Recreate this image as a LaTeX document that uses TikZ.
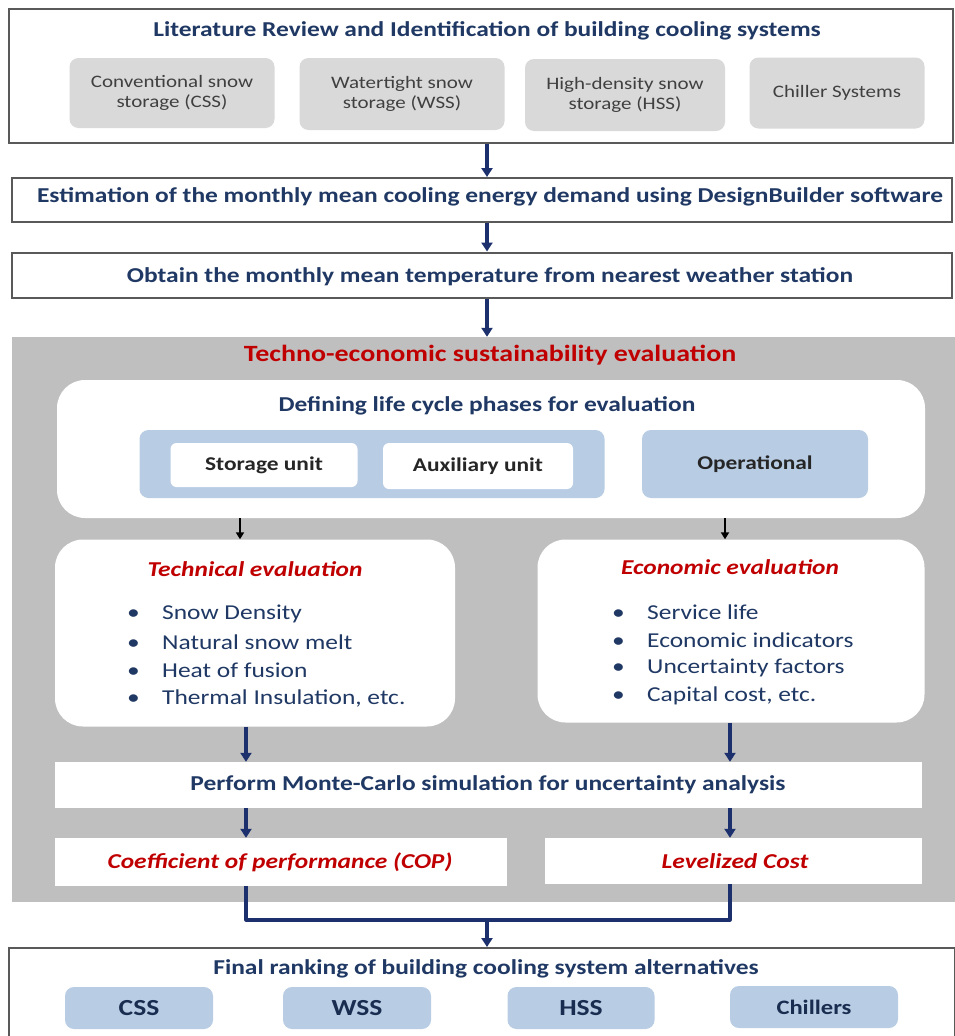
\documentclass[tikz,border=0pt]{standalone}
\usepackage{fontspec}
\setmainfont{Carlito}[FakeStretch=1.2]
\usetikzlibrary{arrows.meta,calc}
\definecolor{navy}{RGB}{31,56,100}
\definecolor{anavy}{RGB}{28,48,110}
\definecolor{dred}{RGB}{192,0,0}
\definecolor{lblue}{RGB}{184,204,228}
\definecolor{bggray}{RGB}{191,191,191}
\definecolor{lgray}{RGB}{217,217,217}
\tikzset{
  outerbox/.style={draw=black!65, line width=2pt, fill=white, inner sep=0pt},
  graybox/.style={fill=lgray, rounded corners=9pt, inner sep=0pt, align=center, text=black!75, font=\fontsize{17.5}{20}\selectfont},
  bluebox/.style={fill=lblue, rounded corners=9pt, inner sep=0pt, align=center, text=black!85, font=\fontsize{19.5}{23}\selectfont\bfseries},
  finbox/.style={fill=lblue, rounded corners=9pt, inner sep=0pt, align=center, text=navy!80!black, font=\fontsize{20.5}{24}\selectfont\bfseries},
  whitebox/.style={fill=white, rounded corners=6pt, inner sep=0pt, align=center, text=black!85, font=\fontsize{19.5}{23}\selectfont\bfseries},
  roundwhite/.style={fill=white, rounded corners=28pt, inner sep=0pt},
  plainwhite/.style={fill=white, inner sep=0pt},
  title/.style={text=navy, font=\fontsize{21.2}{25}\selectfont\bfseries, inner sep=0pt},
  redtitle/.style={text=dred, font=\fontsize{23.3}{27}\selectfont\bfseries, inner sep=0pt},
  reditalic/.style={text=dred, font=\fontsize{21.2}{25}\selectfont\bfseries\itshape, inner sep=0pt},
  item/.style={text=navy, font=\fontsize{21.2}{25}\selectfont, inner sep=0pt, anchor=west},
  navyarrow/.style={draw=anavy, line width=3.2pt, -{Triangle[length=9pt,width=11pt]}},
  navyline/.style={draw=anavy, line width=3.2pt},
  blackarrow/.style={draw=black, line width=2pt, -{Triangle[length=7pt,width=8pt]}},
}
\newcommand{\bul}[1]{\makebox[35pt][l]{\textbullet}#1}
\begin{document}
\begin{tikzpicture}[x=1pt,y=-1pt]
\useasboundingbox (0,0) rectangle (955,1036);
\fill[white] (0,0) rectangle (955,1036);
\coordinate (cx) at (487,0);
% top box
\node[outerbox, minimum width=944pt, minimum height=134pt] (top) at (481,76) {};
\node[title] (toptitle) at (487,31) {Literature Review and Identification of building cooling systems};
\node[graybox, minimum width=205pt, minimum height=70pt] (css) at (172,93) {Conventional snow\\storage (CSS)};
\node[graybox, minimum width=205pt, minimum height=72pt] (wss) at (402,94) {Watertight snow\\storage (WSS)};
\node[graybox, minimum width=200pt, minimum height=72pt] (hss) at (625,95) {High-density snow\\storage (HSS)};
\node[graybox, minimum width=175pt, minimum height=71pt] (chs) at (837,93) {Chiller Systems};
% box 2 and 3
\node[outerbox, minimum width=940pt, minimum height=44pt] (est) at (482,200) {};
\node[title] (esttext) at (490,197) {Estimation of the monthly mean cooling energy demand using DesignBuilder software};
\node[outerbox, minimum width=940pt, minimum height=45pt] (obt) at (482,275) {};
\node[title] (obttext) at (490,277) {Obtain the monthly mean temperature from nearest weather station};
% gray region
\node[fill=bggray, inner sep=0pt, minimum width=943pt, minimum height=565pt] (tech) at (483.5,619.5) {};
\node[redtitle] (techtitle) at (490,355) {Techno-economic sustainability evaluation};
% life cycle box
\node[roundwhite, minimum width=868pt, minimum height=138pt] (life) at (491,449) {};
\node[title] (lifetitle) at (487,406) {Defining life cycle phases for evaluation};
\node[fill=lblue, rounded corners=9pt, minimum width=465pt, minimum height=68pt, inner sep=0pt] (phase) at (372,464) {};
\node[whitebox, minimum width=187pt, minimum height=44pt] (stor) at (264,465) {Storage unit};
\node[whitebox, minimum width=190pt, minimum height=46pt] (aux) at (478,466) {Auxiliary unit};
\node[bluebox, minimum width=226pt, minimum height=68pt] (oper) at (755,464) {Operational};
% evaluation boxes
\node[roundwhite, minimum width=400pt, minimum height=187pt] (techev) at (255,633) {};
\node[roundwhite, minimum width=387pt, minimum height=183pt] (ecoev) at (731,631) {};
\node[reditalic] (techevt) at (255,569) {Technical evaluation};
\node[reditalic] (ecoevt) at (730,567) {Economic evaluation};
\node[item] (t1) at (127,614) {\bul{Snow Density}};
\node[item] (t2) at (127,642) {\bul{Natural snow melt}};
\node[item] (t3) at (127,670) {\bul{Heat of fusion}};
\node[item] (t4) at (127,698) {\bul{Thermal Insulation, etc.}};
\node[item] (e1) at (612,612) {\bul{Service life}};
\node[item] (e2) at (612,640) {\bul{Economic indicators}};
\node[item] (e3) at (612,668) {\bul{Uncertainty factors}};
\node[item] (e4) at (612,696) {\bul{Capital cost, etc.}};
% monte carlo
\node[plainwhite, minimum width=867pt, minimum height=46pt] (mc) at (488.5,785) {};
\node[title] (mctext) at (488,785) {Perform Monte-Carlo simulation for uncertainty analysis};
\node[plainwhite, minimum width=452pt, minimum height=48pt] (cop) at (281,862) {};
\node[reditalic] (coptext) at (280,862) {Coefficient of performance (COP)};
\node[plainwhite, minimum width=377pt, minimum height=46pt] (lev) at (733.5,861) {};
\node[reditalic] (levtext) at (735,861) {Levelized Cost};
% final box
\node[outerbox, minimum width=946pt, minimum height=100pt] (fin) at (482,998) {};
\node[title] (fintitle) at (486,969) {Final ranking of building cooling system alternatives};
\node[finbox, minimum width=148pt, minimum height=42pt] (fcss) at (139,1008) {\fontsize{23}{26}\selectfont CSS};
\node[finbox, minimum width=148pt, minimum height=42pt] (fwss) at (357,1008) {\fontsize{23}{26}\selectfont WSS};
\node[finbox, minimum width=147pt, minimum height=42pt] (fhss) at (581,1008) {\fontsize{23}{26}\selectfont HSS};
\node[finbox, minimum width=168pt, minimum height=42pt] (fchl) at (814,1007) {Chillers};
% connectors
\draw[navyarrow] (top.south -| cx) -- (est.north -| cx);
\draw[navyarrow] (est.south -| cx) -- (obt.north -| cx);
\draw[navyarrow] (obt.south -| cx) -- (tech.north -| cx);
\coordinate (lx) at (240,0);
\coordinate (rx) at (725,0);
\draw[blackarrow] (life.south -| lx) -- (techev.north -| lx);
\draw[blackarrow] (life.south -| rx) -- (ecoev.north -| rx);
\coordinate (lx2) at (246,0);
\coordinate (rx2) at (730,0);
\draw[navyarrow] (techev.south -| lx2) -- (mc.north -| lx2);
\draw[navyarrow] (ecoev.south -| rx2) -- (mc.north -| rx2);
\draw[navyarrow] (mc.south -| lx2) -- (cop.north -| lx2);
\draw[navyarrow] (mc.south -| rx2) -- (lev.north -| rx2);
\coordinate (join) at (487,920);
\draw[navyline, line join=round] (cop.south -| lx2) -- (join -| lx2) -- (join -| rx2) -- (lev.south -| rx2);
\draw[navyarrow] (join) -- (fin.north -| join);
\end{tikzpicture}
\end{document}
